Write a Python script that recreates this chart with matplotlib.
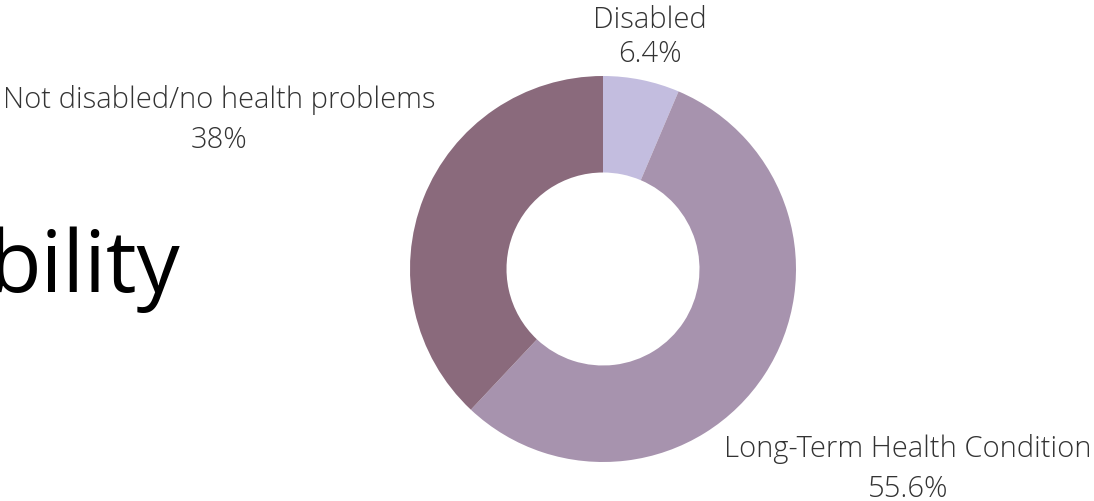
import matplotlib.pyplot as plt

# Share of respondents by disability status
labels = ['Disabled', 'Long-Term Health Condition', 'Not disabled/no health problems']
shares = [6.4, 55.6, 38.0]
colors = ['#c3bddf', '#a793ae', '#8a6a7c']

W, H = 1094, 502
fig = plt.figure(figsize=(W / 100, H / 100), dpi=100)
ax = fig.add_axes([0, 0, 1, 1])

cx, cy, r = 603, H - 270, 193
ax.pie(shares, colors=colors, startangle=90, counterclock=False,
       center=(cx, cy), radius=r, frame=True,
       wedgeprops=dict(width=r * 0.5, linewidth=0))
ax.set_xlim(0, W)
ax.set_ylim(0, H)
ax.set_aspect('equal')
ax.axis('off')

# label anchor: x centre, baseline of name line, baseline of value line
font = dict(family='Open Sans', fontweight='light', color='#333333',
            fontsize=21, ha='center', va='baseline')
label_pos = [(650, 28, 62), (908, 457, 497), (219, 108, 148)]
for name, val, (x, y1, y2) in zip(labels, shares, label_pos):
    ax.text(x, H - y1, name, **font)
    ax.text(x, H - y2, f'{val:g}%', **font)

# heading cut off at the left edge
ax.text(180, H - 292, 'bility', family='Open Sans', fontsize=62,
        color='black', ha='right', va='baseline')

fig.savefig('out.png', dpi=100)
